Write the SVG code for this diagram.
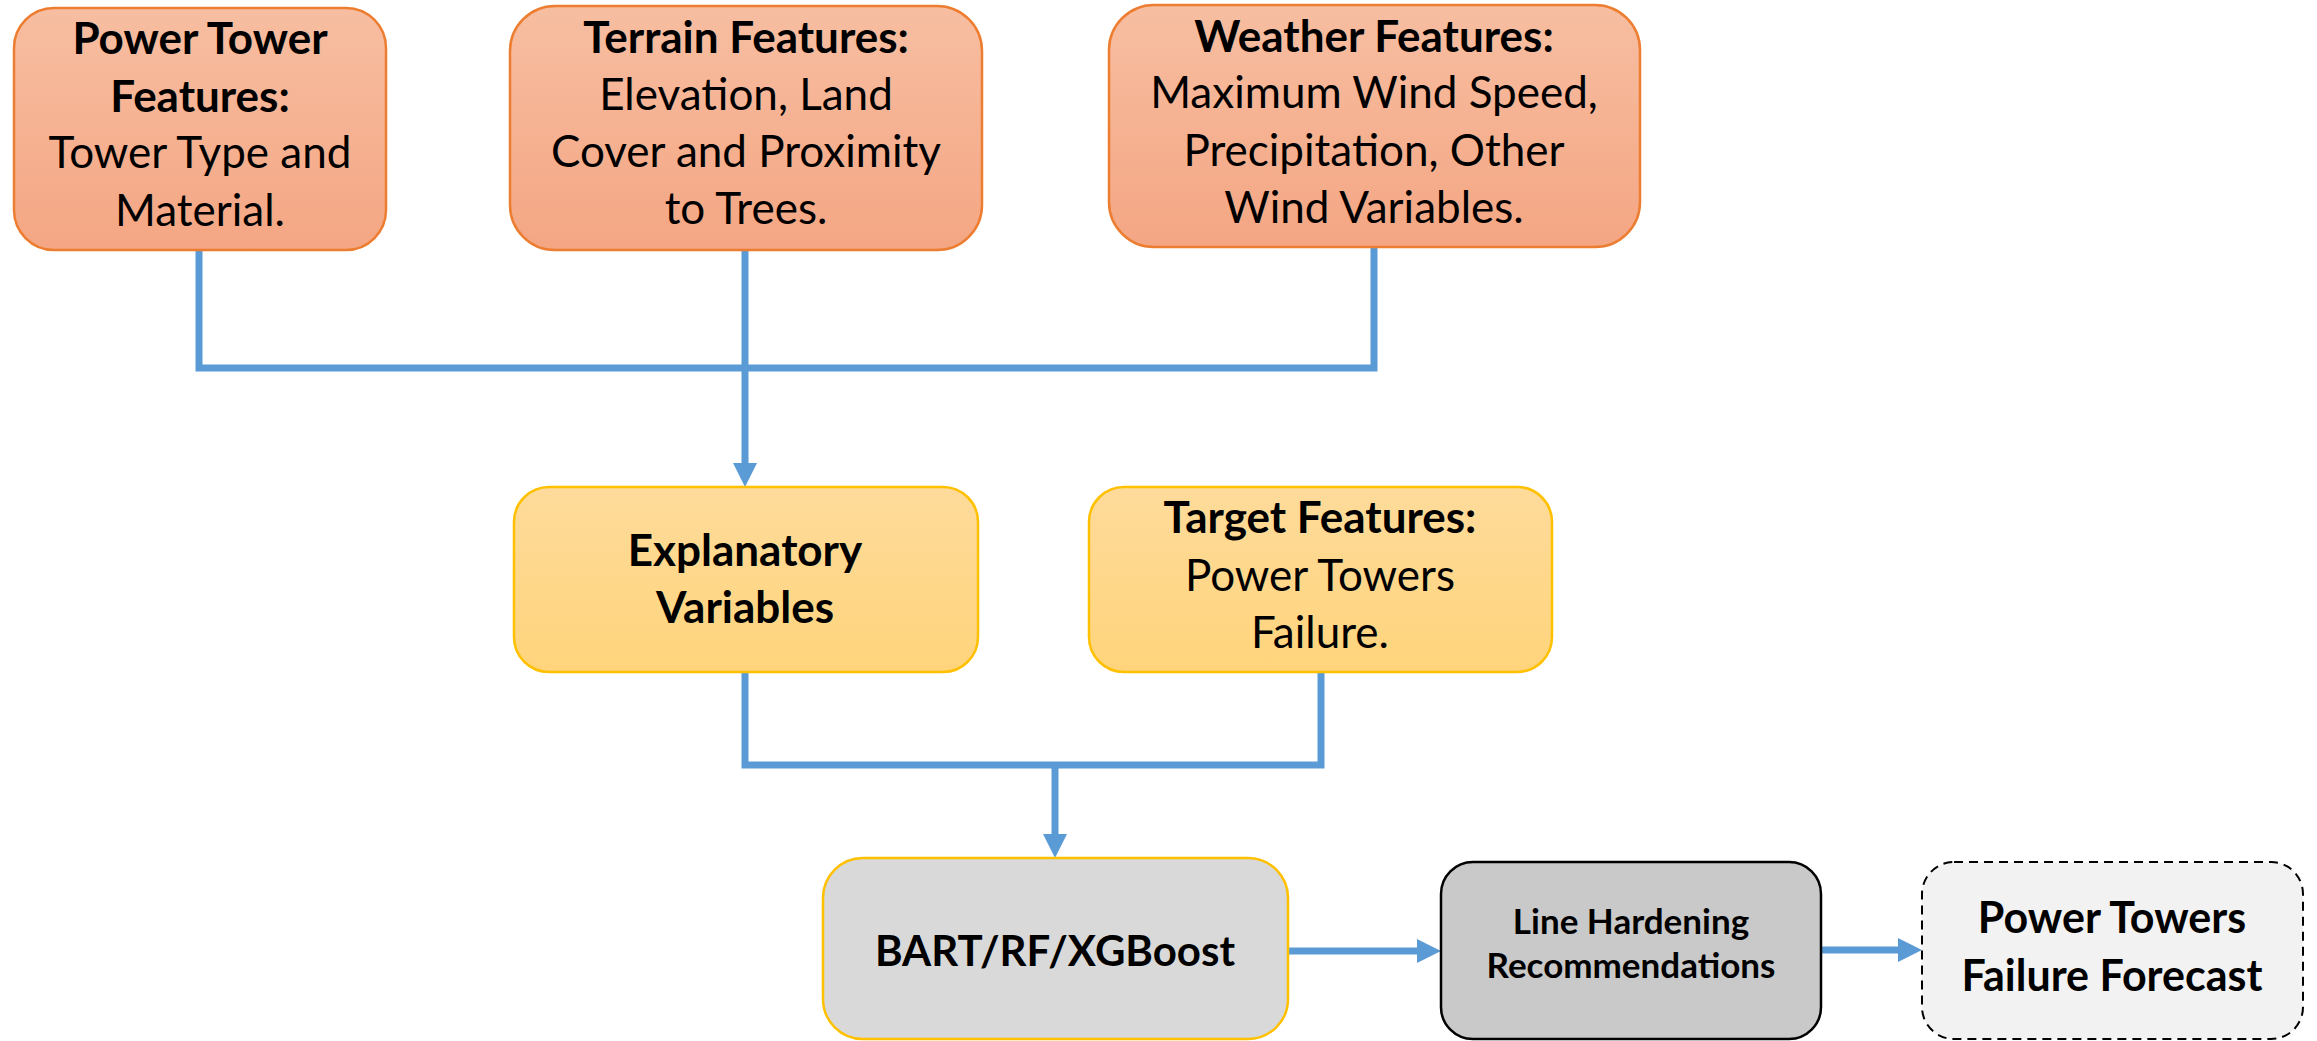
<svg xmlns="http://www.w3.org/2000/svg" width="2317" height="1041" viewBox="0 0 2317 1041">
<style>
  .t { font-family: Lato, "Liberation Sans", sans-serif; fill: #000; text-anchor: middle; font-size: 44px; }
  .b { font-weight: bold; }
  .orange { fill: url(#gO); stroke: #ed7d31; stroke-width: 2.5; }
  .yellow { fill: url(#gY); stroke: #ffc000; stroke-width: 2.5; }
  .conn { fill: none; stroke: #5b9bd5; stroke-width: 7; }
</style>
<defs>
  <linearGradient id="gO" x1="0" y1="0" x2="0" y2="1">
    <stop offset="0" stop-color="#f7bea1"/>
    <stop offset="1" stop-color="#f4a683"/>
  </linearGradient>
  <linearGradient id="gY" x1="0" y1="0" x2="0" y2="1">
    <stop offset="0" stop-color="#fedb9b"/>
    <stop offset="1" stop-color="#ffd47b"/>
  </linearGradient>
  <marker id="arr" viewBox="0 0 24 24" refX="4" refY="12" markerWidth="24" markerHeight="24" markerUnits="userSpaceOnUse" orient="auto">
    <path d="M0,0 L24,12 L0,24 z" fill="#5b9bd5"/>
  </marker>
</defs>
<rect width="2317" height="1041" fill="#fff"/>

<g id="connectors">
  <path class="conn" d="M199 250 V368 H745"/>
  <path class="conn" d="M1374 247 V368 H745"/>
  <path class="conn" d="M745 250 V467" marker-end="url(#arr)"/>
  <path class="conn" d="M745 672 V765 H1321 V672"/>
  <path class="conn" d="M1055 765 V838" marker-end="url(#arr)"/>
  <path class="conn" d="M1288 951 H1421" marker-end="url(#arr)"/>
  <path class="conn" d="M1821 950 H1902" marker-end="url(#arr)"/>
</g>

<g id="power-tower">
  <rect class="orange" x="14" y="8" width="372" height="242" rx="40"/>
  <text class="t b" x="200" y="54">Power Tower</text>
  <text class="t b" x="200" y="112">Features:</text>
  <text class="t" x="200" y="168">Tower Type and</text>
  <text class="t" x="200" y="226">Material.</text>
</g>

<g id="terrain">
  <rect class="orange" x="510" y="6" width="472" height="244" rx="45"/>
  <text class="t b" x="746" y="53">Terrain Features:</text>
  <text class="t" x="746" y="110">Elevation, Land</text>
  <text class="t" x="746" y="167">Cover and Proximity</text>
  <text class="t" x="746" y="224">to Trees.</text>
</g>

<g id="weather">
  <rect class="orange" x="1109" y="5" width="531" height="242" rx="45"/>
  <text class="t b" x="1374" y="52">Weather Features:</text>
  <text class="t" x="1374" y="108">Maximum Wind Speed,</text>
  <text class="t" x="1374" y="166">Precipitation, Other</text>
  <text class="t" x="1374" y="223">Wind Variables.</text>
</g>

<g id="explanatory">
  <rect class="yellow" x="514" y="487" width="464" height="185" rx="35"/>
  <text class="t b" x="745" y="566">Explanatory</text>
  <text class="t b" x="745" y="623">Variables</text>
</g>

<g id="target">
  <rect class="yellow" x="1089" y="487" width="463" height="185" rx="35"/>
  <text class="t b" x="1320" y="533">Target Features:</text>
  <text class="t" x="1320" y="591">Power Towers</text>
  <text class="t" x="1320" y="648">Failure.</text>
</g>

<g id="model">
  <rect x="823" y="858" width="465" height="181" rx="40" fill="#d9d9d9" stroke="#ffc000" stroke-width="2.5"/>
  <text class="t b" x="1055" y="966" style="font-size:42px">BART/RF/XGBoost</text>
</g>

<g id="hardening">
  <rect x="1441" y="862" width="380" height="177" rx="32" fill="#c9c9c9" stroke="#000" stroke-width="2.5"/>
  <text class="t b" x="1631" y="934" style="font-size:35px">Line Hardening</text>
  <text class="t b" x="1631" y="978" style="font-size:35px">Recommendations</text>
</g>

<g id="forecast">
  <rect x="1922" y="862" width="381" height="177" rx="32" fill="#f2f2f2" stroke="#000" stroke-width="2" stroke-dasharray="9 6"/>
  <text class="t b" x="2112" y="933" style="font-size:43px">Power Towers</text>
  <text class="t b" x="2112" y="991" style="font-size:43px">Failure Forecast</text>
</g>
</svg>
